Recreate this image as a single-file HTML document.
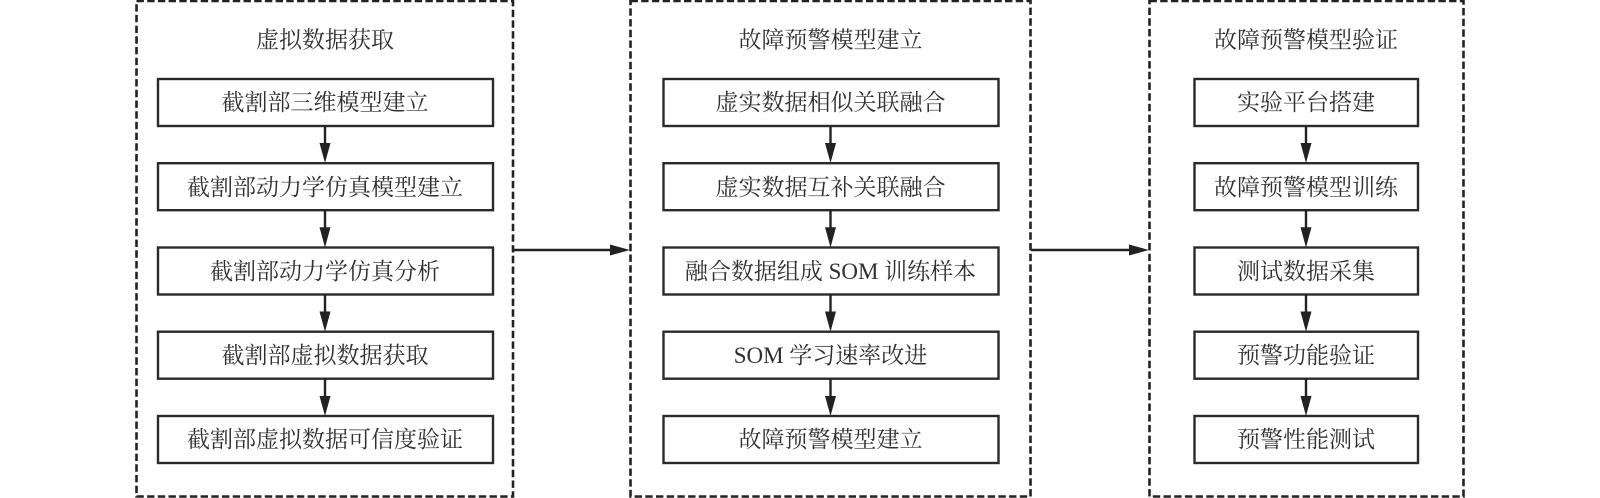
<!DOCTYPE html>
<html><head><meta charset="utf-8"><style>
html,body{margin:0;padding:0;background:#fff;width:1600px;height:498px;overflow:hidden}
svg{display:block;filter:blur(0.3px)}
text{font-family:"Liberation Serif","Noto Serif CJK SC",serif;font-size:23px;fill:#303030;text-anchor:middle}
.f{fill:none;stroke:#222;stroke-width:2.6;stroke-dasharray:7.4 3.3}
.b{fill:#fff;stroke:#2a2a2a;stroke-width:2.4}
.l{stroke:#222;stroke-width:2.4;fill:none}
.h{fill:#222}
</style></head><body>
<svg width="1600" height="498" viewBox="0 0 1600 498" xmlns="http://www.w3.org/2000/svg">
<rect class="f" x="136.500" y="1" width="376.500" height="495.500"/>
<rect class="f" x="630.500" y="1" width="400" height="495.500"/>
<rect class="f" x="1149.500" y="1" width="314" height="495.500"/>

<rect class="b" x="158" y="79" width="335" height="47"/>
<rect class="b" x="158" y="163.200" width="335" height="47"/>
<rect class="b" x="158" y="247.500" width="335" height="47"/>
<rect class="b" x="158" y="331.700" width="335" height="47"/>
<rect class="b" x="158" y="416" width="335" height="47"/>

<rect class="b" x="663.500" y="79" width="335" height="47"/>
<rect class="b" x="663.500" y="163.200" width="335" height="47"/>
<rect class="b" x="663.500" y="247.500" width="335" height="47"/>
<rect class="b" x="663.500" y="331.700" width="335" height="47"/>
<rect class="b" x="663.500" y="416" width="335" height="47"/>

<rect class="b" x="1194.500" y="79" width="223.500" height="47"/>
<rect class="b" x="1194.500" y="163.200" width="223.500" height="47"/>
<rect class="b" x="1194.500" y="247.500" width="223.500" height="47"/>
<rect class="b" x="1194.500" y="331.700" width="223.500" height="47"/>
<rect class="b" x="1194.500" y="416" width="223.500" height="47"/>

<path class="l" d="M325 126V145M325 210V229M325 294.500V313M325 378.700V398M830.500 126V145M830.500 210V229M830.500 294.500V313M830.500 378.700V398M1306 126V145M1306 210V229M1306 294.500V313M1306 378.700V398M513 250H612M1031 250H1132"/>
<path class="h" d="M319.500 143H330.500L325 163ZM319.500 227.200H330.500L325 247.500ZM319.500 311.500H330.500L325 331.700ZM319.500 396H330.500L325 416ZM825 143H836L830.500 163ZM825 227.200H836L830.500 247.500ZM825 311.500H836L830.500 331.700ZM825 396H836L830.500 416ZM1300.500 143H1311.500L1306 163ZM1300.500 227.200H1311.500L1306 247.500ZM1300.500 311.500H1311.500L1306 331.700ZM1300.500 396H1311.500L1306 416ZM610 244.500L630 250L610 255.500ZM1129 244.500L1149 250L1129 255.500Z"/>

<text x="325" y="47.500">虚拟数据获取</text>
<text x="325" y="110">截割部三维模型建立</text>
<text x="325" y="195">截割部动力学仿真模型建立</text>
<text x="325" y="279">截割部动力学仿真分析</text>
<text x="325" y="363">截割部虚拟数据获取</text>
<text x="325" y="447">截割部虚拟数据可信度验证</text>

<text x="830.500" y="47.500">故障预警模型建立</text>
<text x="830.500" y="110">虚实数据相似关联融合</text>
<text x="830.500" y="195">虚实数据互补关联融合</text>
<text x="830.500" y="279">融合数据组成 SOM 训练样本</text>
<text x="830.500" y="363">SOM 学习速率改进</text>
<text x="830.500" y="447">故障预警模型建立</text>

<text x="1306" y="47.500">故障预警模型验证</text>
<text x="1306" y="110">实验平台搭建</text>
<text x="1306" y="195">故障预警模型训练</text>
<text x="1306" y="279">测试数据采集</text>
<text x="1306" y="363">预警功能验证</text>
<text x="1306" y="447">预警性能测试</text>
</svg>
</body></html>
